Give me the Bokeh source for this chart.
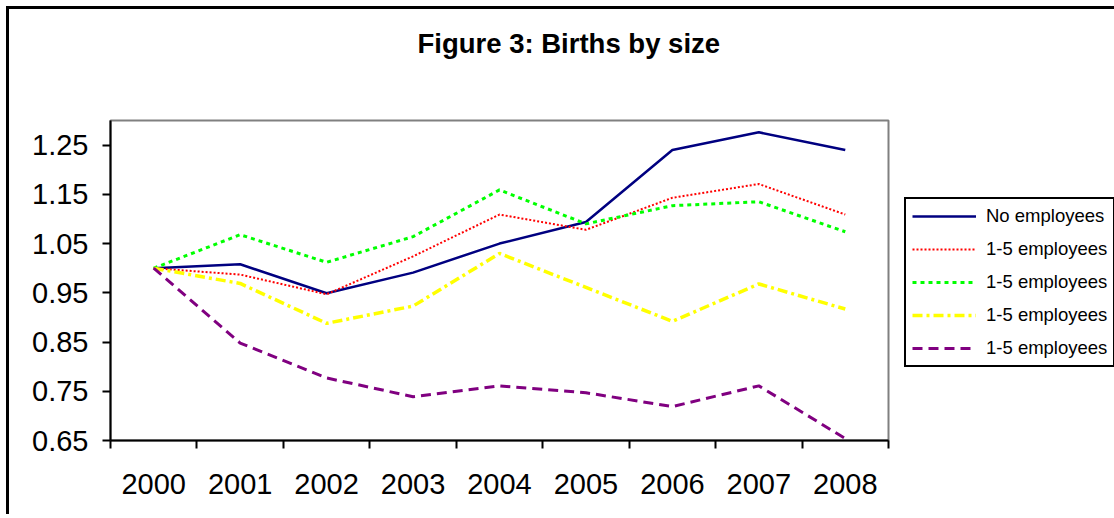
from bokeh.plotting import figure
from bokeh.models import FixedTicker, Legend, LegendItem, Range1d, NumeralTickFormatter
from bokeh.embed import file_html
from bokeh.resources import INLINE

# ---- data ----
years = [2000, 2001, 2002, 2003, 2004, 2005, 2006, 2007, 2008]
year_labels = [str(y) for y in years]
series_names = ["No employees", "1-5 employees", "1-5 employees", "1-5 employees", "1-5 employees"]
no_employees = [1.000, 1.008, 0.949, 0.991, 1.050, 1.094, 1.240, 1.276, 1.240]
emp_a = [1.000, 0.987, 0.947, 1.024, 1.109, 1.078, 1.143, 1.171, 1.109]
emp_b = [1.000, 1.068, 1.012, 1.064, 1.159, 1.090, 1.127, 1.135, 1.074]
emp_c = [1.000, 0.969, 0.888, 0.923, 1.030, 0.961, 0.892, 0.968, 0.917]
emp_d = [1.000, 0.848, 0.777, 0.739, 0.761, 0.747, 0.719, 0.761, 0.654]
y_ticks = [0.65, 0.75, 0.85, 0.95, 1.05, 1.15, 1.25]
title_text = "Figure 3: Births by size"

FONT = "Liberation Sans"

p = figure(
    frame_width=778, frame_height=320,
    min_border_left=101, min_border_right=225, min_border_top=111, min_border_bottom=74,
    x_range=Range1d(years[0] - 0.5, years[-1] + 0.5),
    y_range=Range1d(0.65, 1.30),
    output_backend="svg", toolbar_location=None,
    background_fill_color="white", border_fill_color="white",
)
p.styles = {"margin-left": "6px", "margin-top": "6px",
            "border-left": "3px solid black", "border-top": "3px solid black"}

# second (blank) line reserves space so the title sits higher above the frame
p.title.text = title_text + "\n "
p.title.text_font = FONT
p.title.text_font_size = "27.5px"
p.title.text_font_style = "bold"
p.title.text_color = "black"
p.title.text_line_height = 1.4
p.title.align = "left"
p.title.offset = 307
p.title.vertical_align = "top"
p.title.standoff = 33

p.xgrid.visible = False
p.ygrid.visible = False
p.outline_line_color = "#808080"
p.outline_line_width = 2

# x axis: labels at categories, tick marks between categories
xa = p.xaxis[0]
xa.ticker = FixedTicker(ticks=years, minor_ticks=[y - 0.5 for y in years] + [years[-1] + 0.5])
xa.major_label_overrides = {y: lab for y, lab in zip(years, year_labels)}
xa.major_tick_out = 0
xa.major_tick_in = 0
xa.minor_tick_out = 8
xa.minor_tick_in = 0
xa.minor_tick_line_color = "black"
xa.minor_tick_line_width = 2
xa.axis_line_color = "black"
xa.axis_line_width = 2
xa.major_label_text_font = FONT
xa.major_label_text_font_size = "29px"
xa.major_label_text_color = "black"
xa.major_label_standoff = 25

ya = p.yaxis[0]
ya.ticker = FixedTicker(ticks=y_ticks, minor_ticks=[])
ya.formatter = NumeralTickFormatter(format="0.00")
ya.major_tick_out = 8
ya.major_tick_in = 0
ya.major_tick_line_color = "black"
ya.major_tick_line_width = 2
ya.axis_line_color = "black"
ya.axis_line_width = 2
ya.major_label_text_font = FONT
ya.major_label_text_font_size = "29px"
ya.major_label_text_color = "black"
ya.major_label_standoff = 14

r1 = p.line(years, no_employees, line_color="#000080", line_width=2.5)
r2 = p.line(years, emp_a, line_color="#FF0000", line_width=2, line_dash="2 2")
r3 = p.line(years, emp_b, line_color="#00FF00", line_width=3, line_dash="4 4")
r4 = p.line(years, emp_c, line_color="#FFFF00", line_width=3.5, line_dash="10 4 3 4")
r5 = p.line(years, emp_d, line_color="#800080", line_width=3, line_dash="10 6")

legend = Legend(
    items=[LegendItem(label=n, renderers=[r]) for n, r in zip(series_names, [r1, r2, r3, r4, r5])],
    location=(16, 73),
    border_line_color="black", border_line_width=2, border_line_alpha=1,
    background_fill_color="white", background_fill_alpha=1,
    label_text_font=FONT, label_text_font_size="18.5px", label_text_color="black",
    glyph_width=64, glyph_height=20, label_height=20, spacing=11,
    label_standoff=10, padding=6, margin=0,
)
p.add_layout(legend, "right")

open("out.html", "w").write(file_html(p, INLINE))
